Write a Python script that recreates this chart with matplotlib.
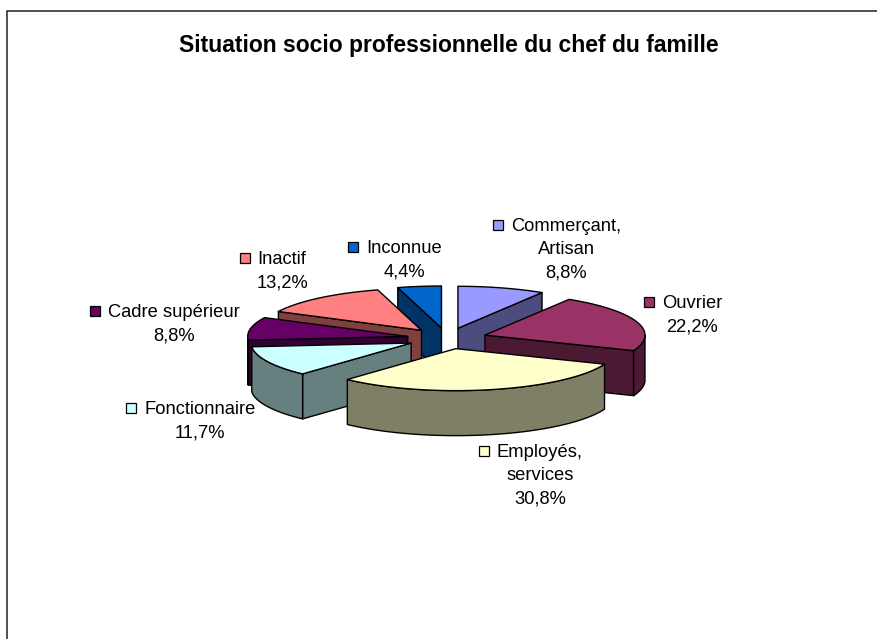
import numpy as np
import matplotlib
matplotlib.use("Agg")
import matplotlib.pyplot as plt
from matplotlib.patches import Polygon, Rectangle

W, H = 877, 639
title = "Situation socio professionnelle du chef du famille"
categories = ["Commerçant,\nArtisan", "Ouvrier", "Employés,\nservices", "Fonctionnaire",
              "Cadre supérieur", "Inactif", "Inconnue"]
shares = [8.8, 22.2, 30.8, 11.7, 8.8, 13.2, 4.4]
pct_labels = ["8,8%", "22,2%", "30,8%", "11,7%", "8,8%", "13,2%", "4,4%"]
top_colors = ["#9999FF", "#993366", "#FFFFCC", "#CCFFFF", "#660066", "#FF8080", "#0066CC"]
side_colors = ["#4C4C7F", "#4C1933", "#7F7F66", "#667F7F", "#330033", "#7F4040", "#003366"]
draw_order = [0, 6, 1, 5, 4, 3, 2]

label_x = [566, 692, 540, 200, 174, 282, 404]
label_y = [225, 302, 451, 408, 311, 258, 247]

cx, cy, rx, ry, depth, explode = 447.0, 338.4, 160.0, 42.0, 45.0, 0.25
LABEL_SIZE = 13.2
LINE_STEP = 23.3

plt.rcParams["font.family"] = ["Liberation Sans", "DejaVu Sans"]
fig = plt.figure(figsize=(W / 100, H / 100), dpi=100)
ax = fig.add_axes([0, 0, 1, 1])
ax.set_xlim(0, W)
ax.set_ylim(H, 0)
ax.axis("off")

EDGE = dict(edgecolor="black", linewidth=1.0, joinstyle="round")


def rim(ax0, ay0, a0, a1, n=80):
    t = np.radians(np.linspace(a0, a1, n))
    return np.column_stack([ax0 + rx * np.sin(t), ay0 - ry * np.cos(t)])


bounds = np.concatenate([[0], np.cumsum(shares)]) / np.sum(shares) * 360
for i in draw_order:
    a0, a1 = bounds[i], bounds[i + 1]
    mid = np.radians((a0 + a1) / 2)
    px = cx + explode * rx * np.sin(mid)
    py = cy - explode * ry * np.cos(mid)
    apex = np.array([[px, py]])
    down = np.array([0, depth])
    walls = []
    if np.sin(np.radians(a0)) < -1e-6:
        e = rim(px, py, a0, a0, 1)
        walls.append(np.vstack([apex, e, e + down, apex + down]))
    if np.sin(np.radians(a1)) > 1e-6:
        e = rim(px, py, a1, a1, 1)
        walls.append(np.vstack([apex, e, e + down, apex + down]))
    lo, hi = max(a0, 90), min(a1, 270)
    if hi > lo:
        arc = rim(px, py, lo, hi)
        walls.append(np.vstack([arc, (arc + down)[::-1]]))
    for w in walls:
        ax.add_patch(Polygon(w, closed=True, facecolor=side_colors[i], **EDGE))
    top = np.vstack([apex, rim(px, py, a0, a1)])
    ax.add_patch(Polygon(top, closed=True, facecolor=top_colors[i], **EDGE))

# chart frame: only left and top edges are visible
ax.plot([6.5, 6.5, W], [H, 10.5, 10.5], color="#222222", lw=1.1, clip_on=False,
        solid_joinstyle="miter")

ax.text(449, 52, title, ha="center", va="baseline", fontsize=16.5, fontweight="bold",
        color="black")

r = fig.canvas.get_renderer()
for i, name in enumerate(categories):
    lines = name.split("\n") + [pct_labels[i]]
    probe = ax.text(0, 0, lines[0], fontsize=LABEL_SIZE)
    w = probe.get_window_extent(r).width
    probe.remove()
    ax.add_patch(Rectangle((label_x[i] - w / 2 - 18, label_y[i] - 5.5), 10, 10,
                           facecolor=top_colors[i], edgecolor="black", linewidth=0.9))
    for k, line in enumerate(lines):
        ax.text(label_x[i], label_y[i] + 6 + k * LINE_STEP, line, ha="center", va="baseline",
                fontsize=LABEL_SIZE, color="black")

fig.savefig("out.png", dpi=100)
